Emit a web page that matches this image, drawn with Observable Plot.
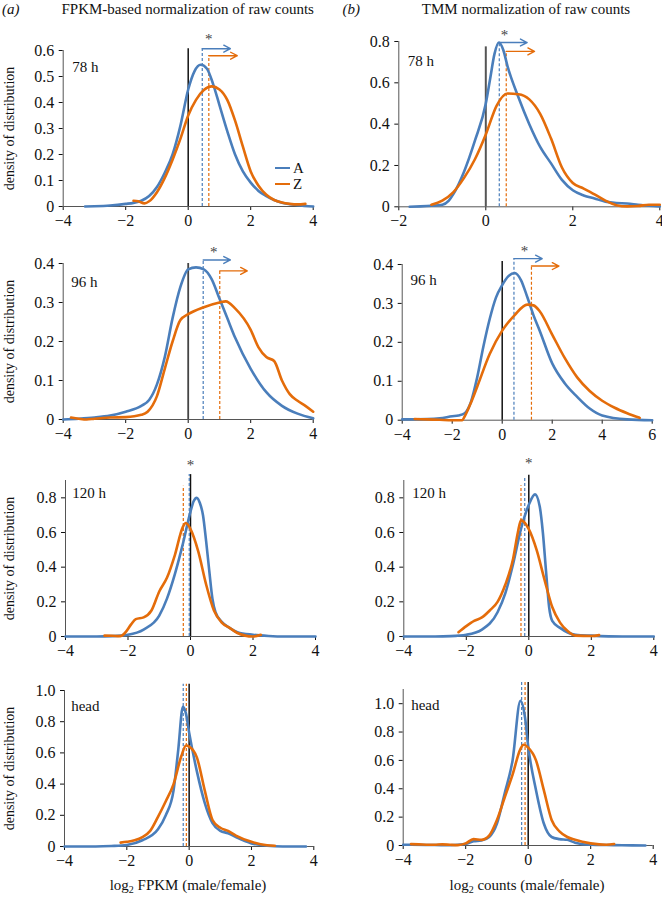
<!DOCTYPE html>
<html><head><meta charset="utf-8">
<script src="https://cdn.jsdelivr.net/npm/d3@7"></script>
<script src="https://cdn.jsdelivr.net/npm/@observablehq/plot@0.6"></script>
<style>
body{margin:0;background:#fff;}
#wrap{position:relative;width:662px;height:900px;font-family:"Liberation Serif","Times New Roman",serif;color:#111;background:#fff}
#wrap svg, #wrap svg text{font-family:"Liberation Serif","Times New Roman",serif !important;}
#wrap svg{font-size:16px;}
.abs{position:absolute;white-space:nowrap;font-size:15px;line-height:15px}
.abs sub{font-size:10px;line-height:0;vertical-align:-3px}
.leg{display:flex;align-items:center;height:16px}
.leg span.k{display:inline-block;width:15px;height:2.6px;margin-right:3px}
</style></head><body><div id="wrap"></div>
<script>
// ---------- text ----------
const columnTags = ["(a)", "(b)"];
const columnTitles = ["FPKM-based normalization of raw counts", "TMM normalization of raw counts"];
const xAxisNames = ["FPKM", "counts"];
const stageLabels = ["78 h", "96 h", "120 h", "head"];
const yAxisTitle = "density of distribution";
const seriesNames = ["A", "Z"];
const seriesColors = ["#4a7ebb", "#e46c0a"];

// ---------- tick values ----------
const xTicksStd = [-4, -2, 0, 2, 4];
const xTicksTmm78 = [-2, 0, 2, 4];
const xTicksTmm96 = [-4, -2, 0, 2, 4, 6];
const yTicks06 = [0, 0.1, 0.2, 0.3, 0.4, 0.5, 0.6];
const yTicks08 = [0, 0.2, 0.4, 0.6, 0.8];
const yTicks04 = [0, 0.1, 0.2, 0.3, 0.4];
const yTicks10 = [0, 0.2, 0.4, 0.6, 0.8, 1.0];

// ---------- density curves [x, density] ----------
const fpkm78A = [[-3.3,0],[-3,0.001],[-2.5,0.004],[-2,0.01],[-1.75,0.014],[-1.5,0.022],[-1.25,0.04],[-1,0.075],[-0.75,0.13],[-0.5,0.2],[-0.25,0.31],[0,0.45],[0.2,0.52],[0.4,0.545],[0.6,0.53],[0.8,0.47],[1,0.39],[1.25,0.29],[1.5,0.2],[1.75,0.135],[2,0.092],[2.25,0.06],[2.5,0.04],[2.75,0.025],[3,0.014],[3.5,0.005],[4,0]];
const fpkm78Z = [[-1.75,0.022],[-1.6,0.02],[-1.4,0.012],[-1.25,0.02],[-1,0.055],[-0.75,0.11],[-0.5,0.18],[-0.25,0.26],[0,0.35],[0.25,0.41],[0.5,0.448],[0.75,0.462],[1,0.45],[1.25,0.41],[1.5,0.33],[1.75,0.23],[2,0.135],[2.25,0.08],[2.5,0.045],[2.75,0.025],[3,0.015],[3.25,0.01],[3.5,0.008],[3.75,0.01]];
const tmm78A = [[-1.75,0],[-1.5,0.002],[-1.25,0.005],[-1,0.01],[-0.85,0.03],[-0.75,0.06],[-0.5,0.17],[-0.25,0.32],[0,0.5],[0.1,0.62],[0.2,0.74],[0.3,0.795],[0.4,0.76],[0.5,0.68],[0.75,0.53],[1,0.4],[1.25,0.29],[1.5,0.21],[1.75,0.13],[2,0.08],[2.25,0.055],[2.5,0.04],[2.75,0.025],[3,0.018],[3.25,0.016],[3.5,0.01],[3.75,0.005],[4,0.002]];
const tmm78Z = [[-1.25,0.01],[-1,0.03],[-0.75,0.07],[-0.5,0.14],[-0.25,0.23],[0,0.35],[0.25,0.49],[0.5,0.548],[0.75,0.545],[1,0.52],[1.25,0.45],[1.5,0.33],[1.75,0.19],[2,0.115],[2.25,0.088],[2.5,0.06],[2.75,0.03],[3,0.008],[3.25,0.002],[3.5,0.004],[3.75,0.01],[4,0.01]];
const fpkm96A = [[-4,0],[-3.5,0.002],[-3,0.005],[-2.5,0.01],[-2,0.02],[-1.5,0.035],[-1.25,0.05],[-1,0.09],[-0.75,0.16],[-0.5,0.26],[-0.25,0.34],[0,0.385],[0.25,0.39],[0.5,0.385],[0.75,0.36],[1,0.31],[1.25,0.26],[1.5,0.21],[2,0.13],[2.5,0.07],[3,0.035],[3.5,0.015],[4,0.003]];
const fpkm96Z = [[-3.75,0.005],[-3.5,0.002],[-3.25,0],[-3,0.002],[-2.5,0.005],[-2,0.006],[-1.5,0.012],[-1.3,0.02],[-1,0.06],[-0.75,0.13],[-0.5,0.2],[-0.25,0.255],[0,0.27],[0.5,0.288],[1,0.3],[1.2,0.303],[1.5,0.285],[2,0.23],[2.25,0.185],[2.5,0.16],[2.75,0.15],[3,0.1],[3.25,0.065],[3.5,0.048],[3.75,0.035],[4,0.02]];
const tmm96A = [[-4,0.002],[-3,0.003],[-2.5,0.005],[-2,0.01],[-1.75,0.012],[-1.5,0.018],[-1.25,0.047],[-1,0.11],[-0.75,0.19],[-0.5,0.26],[-0.25,0.315],[0,0.347],[0.25,0.37],[0.5,0.378],[0.75,0.36],[1,0.317],[1.25,0.27],[1.5,0.23],[2,0.146],[2.5,0.095],[3,0.06],[3.5,0.03],[4,0.012],[5,0.002],[6,0]];
const tmm96Z = [[-3.5,0.003],[-3,0.002],[-2.5,0.001],[-2,0],[-1.6,0],[-1.5,0.01],[-1.25,0.045],[-1,0.086],[-0.5,0.17],[0,0.23],[0.5,0.27],[1,0.297],[1.25,0.295],[1.5,0.28],[2,0.22],[2.5,0.16],[3,0.11],[3.5,0.075],[4,0.05],[4.5,0.032],[5,0.018],[5.5,0.006]];
const fpkm120A = [[-4,0],[-3,0],[-2.5,0.002],[-2,0.01],[-1.5,0.04],[-1,0.12],[-0.75,0.22],[-0.5,0.36],[-0.25,0.53],[0,0.72],[0.1,0.78],[0.2,0.8],[0.3,0.77],[0.4,0.7],[0.5,0.55],[0.6,0.38],[0.7,0.22],[0.8,0.14],[1,0.085],[1.25,0.05],[1.5,0.025],[2,0.01],[2.5,0.003],[3,0],[4,0]];
const fpkm120Z = [[-2.75,0.005],[-2.5,0.004],[-2.25,0.002],[-2.1,0.02],[-1.9,0.07],[-1.75,0.1],[-1.5,0.11],[-1.25,0.15],[-1,0.26],[-0.75,0.34],[-0.5,0.47],[-0.25,0.63],[-0.15,0.655],[0,0.62],[0.25,0.49],[0.5,0.3],[0.75,0.15],[1,0.08],[1.25,0.05],[1.5,0.02],[1.75,0.005],[2,0],[2.25,0.01]];
const tmm120A = [[-4,0],[-3,0],[-2.5,0.002],[-2,0.01],[-1.5,0.04],[-1,0.14],[-0.75,0.25],[-0.5,0.42],[-0.25,0.62],[0,0.76],[0.2,0.82],[0.35,0.75],[0.45,0.6],[0.55,0.38],[0.65,0.17],[0.75,0.09],[1,0.05],[1.5,0.01],[2,0.005],[3,0],[4,0]];
const tmm120Z = [[-2.25,0.025],[-2,0.06],[-1.75,0.09],[-1.5,0.11],[-1.25,0.15],[-1,0.2],[-0.75,0.3],[-0.5,0.45],[-0.35,0.6],[-0.25,0.67],[0,0.62],[0.25,0.5],[0.5,0.33],[0.75,0.17],[1,0.08],[1.25,0.03],[1.5,0.005],[2,0.003],[2.25,0.008]];
const fpkmHeadA = [[-4,0],[-3,0],[-2.5,0.003],[-2,0.01],[-1.5,0.04],[-1,0.11],[-0.75,0.2],[-0.5,0.36],[-0.35,0.62],[-0.2,0.895],[-0.1,0.85],[0,0.73],[0.25,0.48],[0.5,0.28],[0.75,0.15],[1,0.1],[1.25,0.085],[1.5,0.06],[2,0.02],[2.5,0.005],[3,0],[3.75,0]];
const fpkmHeadZ = [[-2.2,0.025],[-2,0.03],[-1.75,0.04],[-1.5,0.06],[-1.25,0.1],[-1,0.19],[-0.75,0.29],[-0.5,0.4],[-0.25,0.58],[-0.1,0.647],[0,0.64],[0.25,0.57],[0.5,0.36],[0.75,0.17],[1,0.12],[1.25,0.1],[1.5,0.07],[2,0.03],[2.5,0.008],[2.75,0.005]];
const tmmHeadA = [[-4,0.005],[-3.75,0.005],[-3,0.003],[-2.5,0.002],[-2,0.01],[-1.75,0.03],[-1.5,0.035],[-1.25,0.06],[-1,0.155],[-0.75,0.37],[-0.5,0.6],[-0.25,1.02],[-0.1,0.9],[0,0.7],[0.25,0.39],[0.5,0.155],[0.75,0.06],[1,0.045],[1.25,0.04],[1.5,0.02],[2,0.005],[2.5,0.003],[3,0.002],[3.75,0]];
const tmmHeadZ = [[-3.75,0.01],[-3.5,0.008],[-3,0.005],[-2.75,0.008],[-2.5,0.005],[-2.25,0.003],[-2,0.015],[-1.75,0.045],[-1.5,0.04],[-1.25,0.07],[-1,0.18],[-0.75,0.34],[-0.5,0.5],[-0.25,0.68],[-0.15,0.71],[0,0.69],[0.25,0.6],[0.5,0.39],[0.75,0.18],[1,0.1],[1.25,0.06],[1.5,0.04],[2,0.015],[2.5,0.005],[2.75,0.01]];

// ---------- medians (dashed lines) [A, Z] and their top, arrow ends ----------
const fpkm78Median = [0.45, 0.66], fpkm78MedTop = [0.607, 0.58], fpkm78ArrowEnd = [1.35, 1.57];
const tmm78Median = [0.31, 0.47], tmm78MedTop = [0.795, 0.752], tmm78ArrowEnd = [0.95, 1.12];
const fpkm96Median = [0.48, 1.01], fpkm96MedTop = [0.409, 0.381], fpkm96ArrowEnd = [1.35, 1.89];
const tmm96Median = [0.47, 1.17], tmm96MedTop = [0.415, 0.396], tmm96ArrowEnd = [1.6, 2.27];
const fpkm120Median = [-0.04, -0.23], fpkm120MedTop = [0.934, 0.867];
const tmm120Median = [-0.13, -0.25], tmm120MedTop = [0.92, 0.87];
const fpkmHeadMedian = [-0.19, -0.09], fpkmHeadMedTop = [1.04, 1.04];
const tmmHeadMedian = [-0.21, -0.1], tmmHeadMedTop = [1.15, 1.15];
// zero reference line tops
const zeroTops = [0.607, 0.774, 0.4, 0.408, 0.934, 0.93, 1.04, 1.15];
// significance stars [x, y]
const fpkm78Star = [0.66, 0.645], tmm78Star = [0.43, 0.83], fpkm96Star = [0.82, 0.43], tmm96Star = [0.89, 0.433];
const fpkm120Star = [0.0, 0.99], tmm120Star = [0.0, 1.0];

// ---------- panel configuration (layout) ----------
const panels = [
  {col:0, row:0, A:fpkm78A, Z:fpkm78Z, med:fpkm78Median, top:fpkm78MedTop, end:fpkm78ArrowEnd, star:fpkm78Star, xd:[-4,4], xt:xTicksStd, yd:[0,0.6], yt:yTicks06, box:[62.7,312.7,50,206], lab:[9,16.2], zc:"#111", zw:1.5},
  {col:1, row:0, A:tmm78A, Z:tmm78Z, med:tmm78Median, top:tmm78MedTop, end:tmm78ArrowEnd, star:tmm78Star, xd:[-2,4], xt:xTicksTmm78, yd:[0,0.8], yt:yTicks08, box:[398.3,659.3,40.7,206], lab:[9,20], zc:"#555", zw:2},
  {col:0, row:1, A:fpkm96A, Z:fpkm96Z, med:fpkm96Median, top:fpkm96MedTop, end:fpkm96ArrowEnd, star:fpkm96Star, xd:[-4,4], xt:xTicksStd, yd:[0,0.4], yt:yTicks04, box:[62.7,312.7,263.3,419.3], lab:[8,18.4], zc:"#444", zw:1.8},
  {col:1, row:1, A:tmm96A, Z:tmm96Z, med:tmm96Median, top:tmm96MedTop, end:tmm96ArrowEnd, star:tmm96Star, xd:[-4,6], xt:xTicksTmm96, yd:[0,0.4], yt:yTicks04, box:[401.7,651.7,264.3,420], lab:[8.3,15.7], zc:"#111", zw:1.5},
  {col:0, row:2, A:fpkm120A, Z:fpkm120Z, med:fpkm120Median, top:fpkm120MedTop, end:null, star:fpkm120Star, xd:[-4,4], xt:xTicksStd, yd:[0,0.9], yt:yTicks08, box:[65,315,480,636], lab:[6.7,13], zc:"#111", zw:1.5},
  {col:1, row:2, A:tmm120A, Z:tmm120Z, med:tmm120Median, top:tmm120MedTop, end:null, star:tmm120Star, xd:[-4,4], xt:xTicksStd, yd:[0,0.9], yt:yTicks08, box:[403.3,653.3,480,636], lab:[8.4,13], zc:"#111", zw:1.5},
  {col:0, row:3, A:fpkmHeadA, Z:fpkmHeadZ, med:fpkmHeadMedian, top:fpkmHeadMedTop, end:null, star:null, xd:[-4,4], xt:xTicksStd, yd:[0,1.0], yt:yTicks10, box:[64,313.3,690,846], lab:[6.7,15.2], zc:"#111", zw:1.5},
  {col:1, row:3, A:tmmHeadA, Z:tmmHeadZ, med:tmmHeadMedian, top:tmmHeadMedTop, end:null, star:null, xd:[-4,4], xt:xTicksStd, yd:[0,1.1], yt:yTicks10, box:[402.7,652.7,689.3,845.3], lab:[8,16], zc:"#111", zw:1.5}
];

const wrap = document.getElementById("wrap");
const fmtX = d => d < 0 ? "\u2212" + Math.abs(d) : String(d);
const fmtY = d => d === 0 ? "0" : d.toFixed(1);
const toRows = arr => arr.map(([x, y]) => ({x, y}));
const serif = "'Liberation Serif', 'Times New Roman', serif";

panels.forEach((p, i) => {
  const svgLeft = p.col === 0 ? 0 : 330;
  const svgW = p.col === 0 ? 330 : 332;
  const [left, right, top, bottom] = p.box;
  const mt = 40, mb = 30;
  const ml = left - svgLeft, mr = svgLeft + svgW - right;
  const h = mt + (bottom - top) + mb;
  const medRows = seriesNames.map((s, k) => ({s, k, x: p.med[k], top: p.top[k], end: p.end ? p.end[k] : null}));
  const marks = [
    Plot.ruleY([0], {stroke: "#555", strokeWidth: 1}),
    Plot.ruleX([p.xd[0]], {stroke: "#555", strokeWidth: 1}),
    Plot.ruleX([0], {x: d => d, y1: 0, y2: zeroTops[i], stroke: p.zc, strokeWidth: p.zw})
  ];
  medRows.forEach(m => {
    marks.push(Plot.ruleX([m], {x: "x", y1: 0, y2: "top", stroke: seriesColors[m.k], strokeWidth: 1.2, strokeDasharray: "3,2"}));
    if (m.end != null) {
      marks.push(Plot.arrow([m], {x1: "x", y1: "top", x2: "end", y2: "top", stroke: seriesColors[m.k], strokeWidth: 1.4, headLength: 8, headAngle: 55}));
    }
  });
  marks.push(Plot.line(toRows(p.A), {x: "x", y: "y", stroke: seriesColors[0], strokeWidth: 2.6, curve: "monotone-x"}));
  marks.push(Plot.line(toRows(p.Z), {x: "x", y: "y", stroke: seriesColors[1], strokeWidth: 2.6, curve: "monotone-x"}));
  if (p.star) {
    marks.push(Plot.text([p.star], {x: d => d[0], y: d => d[1], text: () => "*", fontSize: 15, fill: "#444", fontFamily: serif}));
  }
  marks.push(Plot.text([stageLabels[p.row]], {text: d => d, frameAnchor: "top-left", dx: p.lab[0], dy: p.lab[1], textAnchor: "start", lineAnchor: "middle", fontSize: 15, fontFamily: serif}));
  if (p.col === 0) {
    marks.push(Plot.text([yAxisTitle], {text: d => d, frameAnchor: "left", dx: 9 - ml, rotate: -90, textAnchor: "middle", lineAnchor: "middle", fontSize: 14, fontFamily: serif}));
  }
  const chart = Plot.plot({
    width: svgW, height: h,
    marginLeft: ml, marginRight: mr, marginTop: mt, marginBottom: mb,
    style: "background: transparent; overflow: visible; font-family: 'Liberation Serif', 'Times New Roman', serif; font-size: 16px; color: #111;",
    x: {domain: p.xd, ticks: p.xt, tickFormat: fmtX, tickSize: 4, tickPadding: 4, label: null},
    y: {domain: p.yd, ticks: p.yt, tickFormat: fmtY, tickSize: 4, tickPadding: 5, label: null},
    marks
  });
  chart.setAttribute("font-family", serif);
  chart.setAttribute("font-size", 16);
  chart.style.position = "absolute";
  chart.style.left = svgLeft + "px";
  chart.style.top = (top - mt) + "px";
  chart.style.fontFamily = serif;
  chart.style.fontSize = "16px";
  chart.style.background = "transparent";
  chart.style.overflow = "visible";
  wrap.appendChild(chart);
});

// ---------- headers, axis titles, legend ----------
function addDiv(html, css) {
  const d = document.createElement("div");
  d.className = "abs";
  d.innerHTML = html;
  Object.assign(d.style, css);
  wrap.appendChild(d);
  return d;
}
addDiv(columnTags[0], {left: "2px", top: "2px", fontStyle: "italic"});
addDiv(columnTitles[0], {left: "187.7px", top: "2px", transform: "translateX(-50%)"});
addDiv(columnTags[1], {left: "342.5px", top: "2px", fontStyle: "italic"});
addDiv(columnTitles[1], {left: "526px", top: "2px", transform: "translateX(-50%)"});
addDiv("log<sub>2</sub> " + xAxisNames[0] + " (male/female)", {left: "188px", top: "877.5px", transform: "translateX(-50%)"});
addDiv("log<sub>2</sub> " + xAxisNames[1] + " (male/female)", {left: "527px", top: "877.5px", transform: "translateX(-50%)"});
addDiv(seriesNames.map((s, k) => `<div class="leg"><span class="k" style="background:${seriesColors[k]}"></span>${s}</div>`).join(""), {left: "275px", top: "160px"});
</script></body></html>
